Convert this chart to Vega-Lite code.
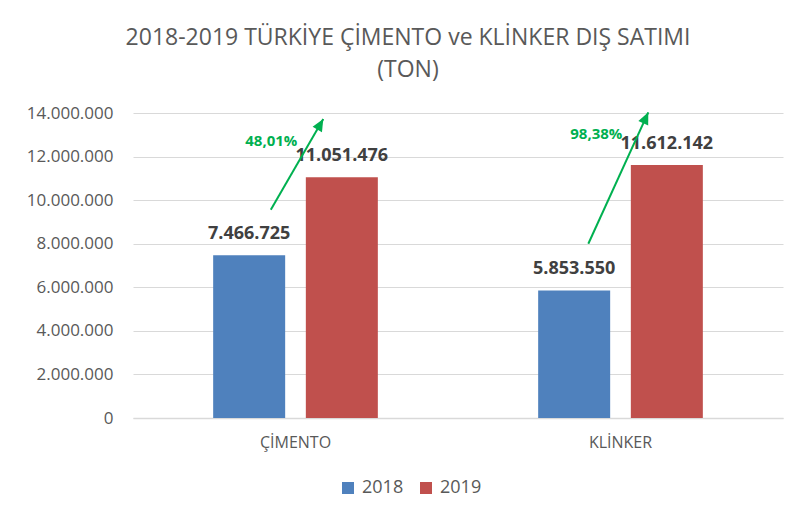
{
  "$schema": "https://vega.github.io/schema/vega-lite/v6.json",
  "width": 650,
  "height": 305,
  "autosize": {"type": "none"},
  "padding": {"left": 133, "top": 113, "right": 14, "bottom": 106},
  "background": "white",
  "config": {
    "locale": {"number": {"decimal": ",", "thousands": ".", "grouping": [3], "currency": ["", " TL"]}},
    "font": "Open Sans",
    "view": {"stroke": null}
  },
  "title": {
    "text": ["2018-2019 TÜRKİYE ÇİMENTO ve KLİNKER DIŞ SATIMI", "(TON)"],
    "fontSize": 23,
    "font": "Open Sans",
    "fontWeight": "normal",
    "color": "#595959",
    "anchor": "middle",
    "dx": -50,
    "lineHeight": 32,
    "baseline": "bottom",
    "offset": -1
  },
  "layer": [
    {
      "data": {
        "values": [
          {"kategori": "ÇİMENTO", "yil": "2018", "ton": 7466725},
          {"kategori": "ÇİMENTO", "yil": "2019", "ton": 11051476},
          {"kategori": "KLİNKER", "yil": "2018", "ton": 5853550},
          {"kategori": "KLİNKER", "yil": "2019", "ton": 11612142}
        ]
      },
      "encoding": {
        "x": {
          "field": "kategori", "type": "nominal", "sort": null,
          "scale": {"paddingInner": 0, "paddingOuter": 0},
          "axis": {"title": null, "labelAngle": 0, "labelFontSize": 16, "labelColor": "#595959", "labelFont": "Open Sans", "domainColor": "#D9D9D9", "domainWidth": 1.5, "ticks": false, "labelPadding": 16, "labelBaseline": "top"}
        },
        "xOffset": {"field": "yil", "type": "nominal", "scale": {"paddingInner": 0.223, "paddingOuter": 0.865}},
        "y": {
          "field": "ton", "type": "quantitative",
          "scale": {"domain": [0, 14000000], "nice": false},
          "axis": {"title": null, "values": [0, 2000000, 4000000, 6000000, 8000000, 10000000, 12000000, 14000000], "format": ",d", "labelFontSize": 17, "labelColor": "#595959", "labelFont": "Open Sans", "gridColor": "#D9D9D9", "gridWidth": 1.2, "domain": false, "ticks": false, "labelPadding": 20}
        }
      },
      "layer": [
        {
          "mark": {"type": "bar"},
          "encoding": {
            "color": {
              "field": "yil", "type": "nominal",
              "scale": {"domain": ["2018", "2019"], "range": ["#4F81BD", "#C0504D"]},
              "legend": {"title": null, "orient": "none", "direction": "horizontal", "legendX": 206, "legendY": 366, "symbolType": "square", "symbolSize": 144, "symbolStrokeWidth": 0, "labelFontSize": 18, "labelColor": "#595959", "labelFont": "Open Sans", "labelOffset": 5, "columnPadding": 13, "padding": 0}
            }
          }
        },
        {
          "mark": {"type": "text", "dy": -21, "fontWeight": "bold", "fontSize": 18, "color": "#404040", "baseline": "middle", "font": "Open Sans"},
          "encoding": {"text": {"field": "ton", "type": "quantitative", "format": ",d"}}
        }
      ]
    },
    {
      "data": {
        "values": [
          {"kategori": "ÇİMENTO", "artis": "48,01%", "x0": 0.424, "y0": 9560000, "x1": 0.5855, "y1": 13720000},
          {"kategori": "KLİNKER", "artis": "98,38%", "x0": 1.401, "y0": 8000000, "x1": 1.5855, "y1": 14030000}
        ]
      },
      "encoding": {
        "x": {"field": "x1", "type": "quantitative", "scale": {"domain": [0, 2], "nice": false, "zero": false}, "axis": null},
        "y": {"field": "y1", "type": "quantitative", "scale": {"domain": [0, 14000000], "nice": false}}
      },
      "layer": [
        {
          "mark": {"type": "rule", "color": "#00B050", "strokeWidth": 2},
          "encoding": {
            "x": {"field": "x0", "type": "quantitative", "scale": {"domain": [0, 2], "nice": false, "zero": false}, "axis": null},
            "y": {"field": "y0", "type": "quantitative"},
            "x2": {"field": "x1"},
            "y2": {"field": "y1"}
          }
        },
        {
          "transform": [{"filter": "datum.kategori == 'ÇİMENTO'"}],
          "mark": {"type": "point", "shape": "M0,0L-0.45,1L0.45,1Z", "size": 576, "filled": true, "color": "#00B050", "opacity": 1, "angle": 30, "strokeWidth": 0}
        },
        {
          "transform": [{"filter": "datum.kategori == 'KLİNKER'"}],
          "mark": {"type": "point", "shape": "M0,0L-0.45,1L0.45,1Z", "size": 576, "filled": true, "color": "#00B050", "opacity": 1, "angle": 24.6, "strokeWidth": 0}
        },
        {
          "mark": {"type": "text", "dx": -52, "dy": 22, "fontWeight": "bold", "fontSize": 15, "color": "#00B050", "baseline": "middle", "align": "center", "font": "Open Sans"},
          "encoding": {"text": {"field": "artis", "type": "nominal"}}
        }
      ]
    }
  ],
  "resolve": {"scale": {"x": "independent"}}
}
